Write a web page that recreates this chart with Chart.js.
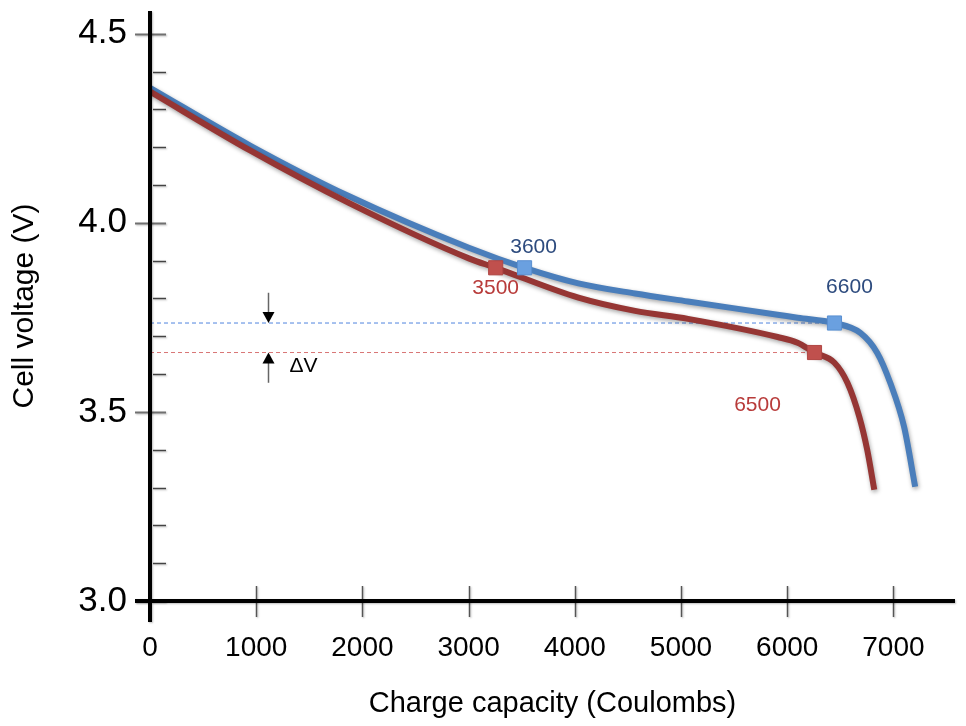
<!DOCTYPE html>
<html>
<head>
<meta charset="utf-8">
<script src="https://cdn.jsdelivr.net/npm/chart.js@4.4.1/dist/chart.umd.min.js"></script>
<style>
  html, body { margin: 0; padding: 0; background: #fff; }
  #wrap { width: 966px; height: 726px; }
</style>
</head>
<body>
<div id="wrap"><canvas id="grafico" width="966" height="726"></canvas></div>
<script>
// curva azul
const cargaAzul = [0, 938, 1876, 3002, 3527, 4034, 4568, 5066, 5910, 6098, 6445, 6689, 6848, 6970, 7101, 7205];
const tensaoAzul = [4.357, 4.205, 4.070, 3.934, 3.881, 3.840, 3.813, 3.792, 3.757, 3.749, 3.735, 3.709, 3.656, 3.577, 3.460, 3.302];
// curva vermelha
const cargaVerm = [0, 938, 1876, 3002, 3255, 4034, 4568, 5066, 5910, 6098, 6257, 6445, 6567, 6679, 6754, 6820];
const tensaoVerm = [4.347, 4.192, 4.052, 3.906, 3.881, 3.802, 3.767, 3.746, 3.698, 3.683, 3.657, 3.630, 3.577, 3.487, 3.399, 3.294];

// marcas do eixo x
const ticksCarga = [0, 1000, 2000, 3000, 4000, 5000, 6000, 7000];

// pontos marcados
const marcaCargaAzul = [3527, 6445];
const marcaTensaoAzul = [3.881, 3.735];
const rotulosAzul = ['3600', '6600'];
const marcaCargaVerm = [3255, 6257];
const marcaTensaoVerm = [3.881, 3.657];
const rotulosVerm = ['3500', '6500'];

// seta do delta V
const setaCarga = 1107;
const setaDesce = [3.815, 3.735];
const setaSobe = [3.577, 3.657];
const textoDelta = '\u0394V';

const FONTE = '"Liberation Sans", Arial, Helvetica, sans-serif';
Chart.defaults.font.family = FONTE;
Chart.defaults.color = '#000';

function pares(xs, ys) {
  let valor = [];
  for (let i = 0; i < xs.length; i++) {
    valor.push({ x: xs[i], y: ys[i] });
  }
  return valor;
}

const sombra = {
  id: 'sombra',
  beforeDatasetDraw(chart, args) {
    const ds = chart.data.datasets[args.index];
    chart.ctx.save();
    if (ds.sombra) {
      chart.ctx.shadowColor = 'rgba(0,0,0,0.35)';
      chart.ctx.shadowBlur = 4;
      chart.ctx.shadowOffsetX = 1;
      chart.ctx.shadowOffsetY = 2;
    }
  },
  afterDatasetDraw(chart) {
    chart.ctx.restore();
  }
};

const eixos = {
  id: 'eixos',
  afterDatasetsDraw(chart) {
    const ctx = chart.ctx;
    const xs = chart.scales.x;
    const ys = chart.scales.y;
    const area = chart.chartArea;
    ctx.save();
    ctx.shadowColor = 'rgba(0,0,0,0.25)';
    ctx.shadowBlur = 2;
    ctx.shadowOffsetX = 1;
    ctx.shadowOffsetY = 1;

    // tracinhos do eixo y
    ys.ticks.forEach(function (t) {
      const py = Math.round(ys.getPixelForValue(t.value)) + 0.5;
      const grande = Math.round(t.value * 10) % 5 === 0;
      ctx.strokeStyle = grande ? '#707070' : '#444';
      ctx.lineWidth = grande ? 2 : 1.5;
      ctx.beginPath();
      ctx.moveTo(grande ? area.left - 15 : area.left + 3, py);
      ctx.lineTo(area.left + 16, py);
      ctx.stroke();
    });
    // tracinhos do eixo x
    xs.ticks.forEach(function (t) {
      if (t.value <= 0) return;
      const px = Math.round(xs.getPixelForValue(t.value)) + 0.5;
      ctx.strokeStyle = '#555';
      ctx.lineWidth = 1.5;
      ctx.beginPath();
      ctx.moveTo(px, area.bottom - 15);
      ctx.lineTo(px, area.bottom + 16);
      ctx.stroke();
    });

    // linhas dos eixos
    ctx.strokeStyle = '#000';
    ctx.lineWidth = 4;
    ctx.beginPath();
    ctx.moveTo(area.left, area.top);
    ctx.lineTo(area.left, area.bottom + 21);
    ctx.moveTo(area.left - 15, area.bottom);
    ctx.lineTo(area.right, area.bottom);
    ctx.stroke();
    ctx.restore();

    // setas do delta V
    ctx.save();
    const ax = Math.round(xs.getPixelForValue(setaCarga)) + 0.5;
    [setaDesce, setaSobe].forEach(function (s) {
      const p0 = ys.getPixelForValue(s[0]);
      const p1 = ys.getPixelForValue(s[1]);
      const dir = p1 > p0 ? 1 : -1;
      ctx.strokeStyle = '#666';
      ctx.lineWidth = 1.5;
      ctx.beginPath();
      ctx.moveTo(ax, p0);
      ctx.lineTo(ax, p1 - dir * 10);
      ctx.stroke();
      ctx.fillStyle = '#000';
      ctx.beginPath();
      ctx.moveTo(ax, p1);
      ctx.lineTo(ax - 6, p1 - dir * 11);
      ctx.lineTo(ax + 6, p1 - dir * 11);
      ctx.closePath();
      ctx.fill();
    });
    ctx.font = '21px ' + FONTE;
    ctx.textAlign = 'left';
    ctx.textBaseline = 'middle';
    ctx.fillStyle = '#000';
    ctx.fillText(textoDelta, ax + 21, ys.getPixelForValue(setaSobe[1]) + 14);

    // rotulos dos pontos
    ctx.font = '21px ' + FONTE;
    ctx.textAlign = 'center';
    const grupos = [
      { idx: 4, rot: rotulosAzul, cor: '#2d4b7e', desl: [[9, -21], [15, -36]] },
      { idx: 5, rot: rotulosVerm, cor: '#b83b3a', desl: [[0, 20], [-57, 53]] }
    ];
    grupos.forEach(function (g) {
      const meta = chart.getDatasetMeta(g.idx);
      meta.data.forEach(function (pt, i) {
        ctx.fillStyle = g.cor;
        ctx.fillText(g.rot[i], pt.x + g.desl[i][0], pt.y + g.desl[i][1]);
      });
    });
    ctx.restore();
  }
};

const ctx = document.getElementById('grafico').getContext('2d');
const myChart = new Chart(ctx, {
  type: 'line',
  data: {
    datasets: [
      {
        label: 'nivel azul',
        data: [{ x: 0, y: marcaTensaoAzul[1] }, { x: marcaCargaAzul[1], y: marcaTensaoAzul[1] }],
        borderColor: 'rgba(70,125,220,0.95)',
        borderWidth: 1,
        borderDash: [4, 3],
        pointRadius: 0,
        order: 5
      },
      {
        label: 'nivel vermelho',
        data: [{ x: 0, y: marcaTensaoVerm[1] }, { x: marcaCargaVerm[1], y: marcaTensaoVerm[1] }],
        borderColor: 'rgba(215,110,110,0.95)',
        borderWidth: 1,
        borderDash: [4, 3],
        pointRadius: 0,
        order: 4
      },
      {
        label: 'azul',
        data: pares(cargaAzul, tensaoAzul),
        borderColor: '#4a7ebb',
        borderWidth: 6,
        cubicInterpolationMode: 'monotone',
        pointRadius: 0,
        borderCapStyle: 'butt',
        sombra: true,
        order: 3
      },
      {
        label: 'vermelho',
        data: pares(cargaVerm, tensaoVerm),
        borderColor: '#963634',
        borderWidth: 6,
        cubicInterpolationMode: 'monotone',
        pointRadius: 0,
        borderCapStyle: 'butt',
        sombra: true,
        order: 2
      },
      {
        label: 'marcas azul',
        data: pares(marcaCargaAzul, marcaTensaoAzul),
        showLine: false,
        pointStyle: 'rect',
        pointRadius: 10,
        pointBackgroundColor: '#6aa0e0',
        pointBorderColor: '#5a8fd0',
        pointBorderWidth: 1,
        order: 1
      },
      {
        label: 'marcas vermelho',
        data: pares(marcaCargaVerm, marcaTensaoVerm),
        showLine: false,
        pointStyle: 'rect',
        pointRadius: 10,
        pointBackgroundColor: '#c0504d',
        pointBorderColor: '#b04643',
        pointBorderWidth: 1,
        order: 0
      }
    ]
  },
  options: {
    responsive: false,
    animation: false,
    events: [],
    layout: { padding: { top: 11, right: 8, left: 0, bottom: 0 } },
    plugins: { legend: { display: false }, tooltip: { enabled: false } },
    scales: {
      x: {
        type: 'linear',
        min: 0,
        max: 7580,
        grid: { display: false, drawTicks: false },
        border: { display: false },
        afterBuildTicks: function (s) {
          s.ticks = ticksCarga.map(function (v) { return { value: v }; });
        },
        ticks: {
          autoSkip: false,
          maxRotation: 0,
          padding: 30,
          color: '#000',
          font: { size: 28 },
          callback: function (v) { return String(v); }
        },
        title: {
          display: true,
          text: 'Charge capacity (Coulombs)',
          color: '#000',
          font: { size: 29 },
          padding: { top: 0, bottom: 5 }
        },
        afterFit: function (s) {
          s.height = 125;
          s.paddingLeft = 0; s.paddingRight = 0;
        }
      },
      y: {
        type: 'linear',
        min: 3.0,
        max: 4.56,
        grid: { display: false, drawTicks: false },
        border: { display: false },
        ticks: {
          stepSize: 0.1,
          includeBounds: false,
          autoSkip: false,
          padding: 23,
          color: '#000',
          font: { size: 35 },
          callback: function (v) {
            return Math.round(v * 10) % 5 === 0 ? v.toFixed(1) : '';
          }
        },
        title: {
          display: true,
          text: 'Cell voltage (V)',
          color: '#000',
          font: { size: 30 },
          padding: { top: 7, bottom: 0 }
        },
        afterFit: function (s) {
          s.width = 150;
          s.paddingTop = 0; s.paddingBottom = 0;
        }
      }
    }
  },
  plugins: [sombra, eixos]
});
</script>
</body>
</html>
